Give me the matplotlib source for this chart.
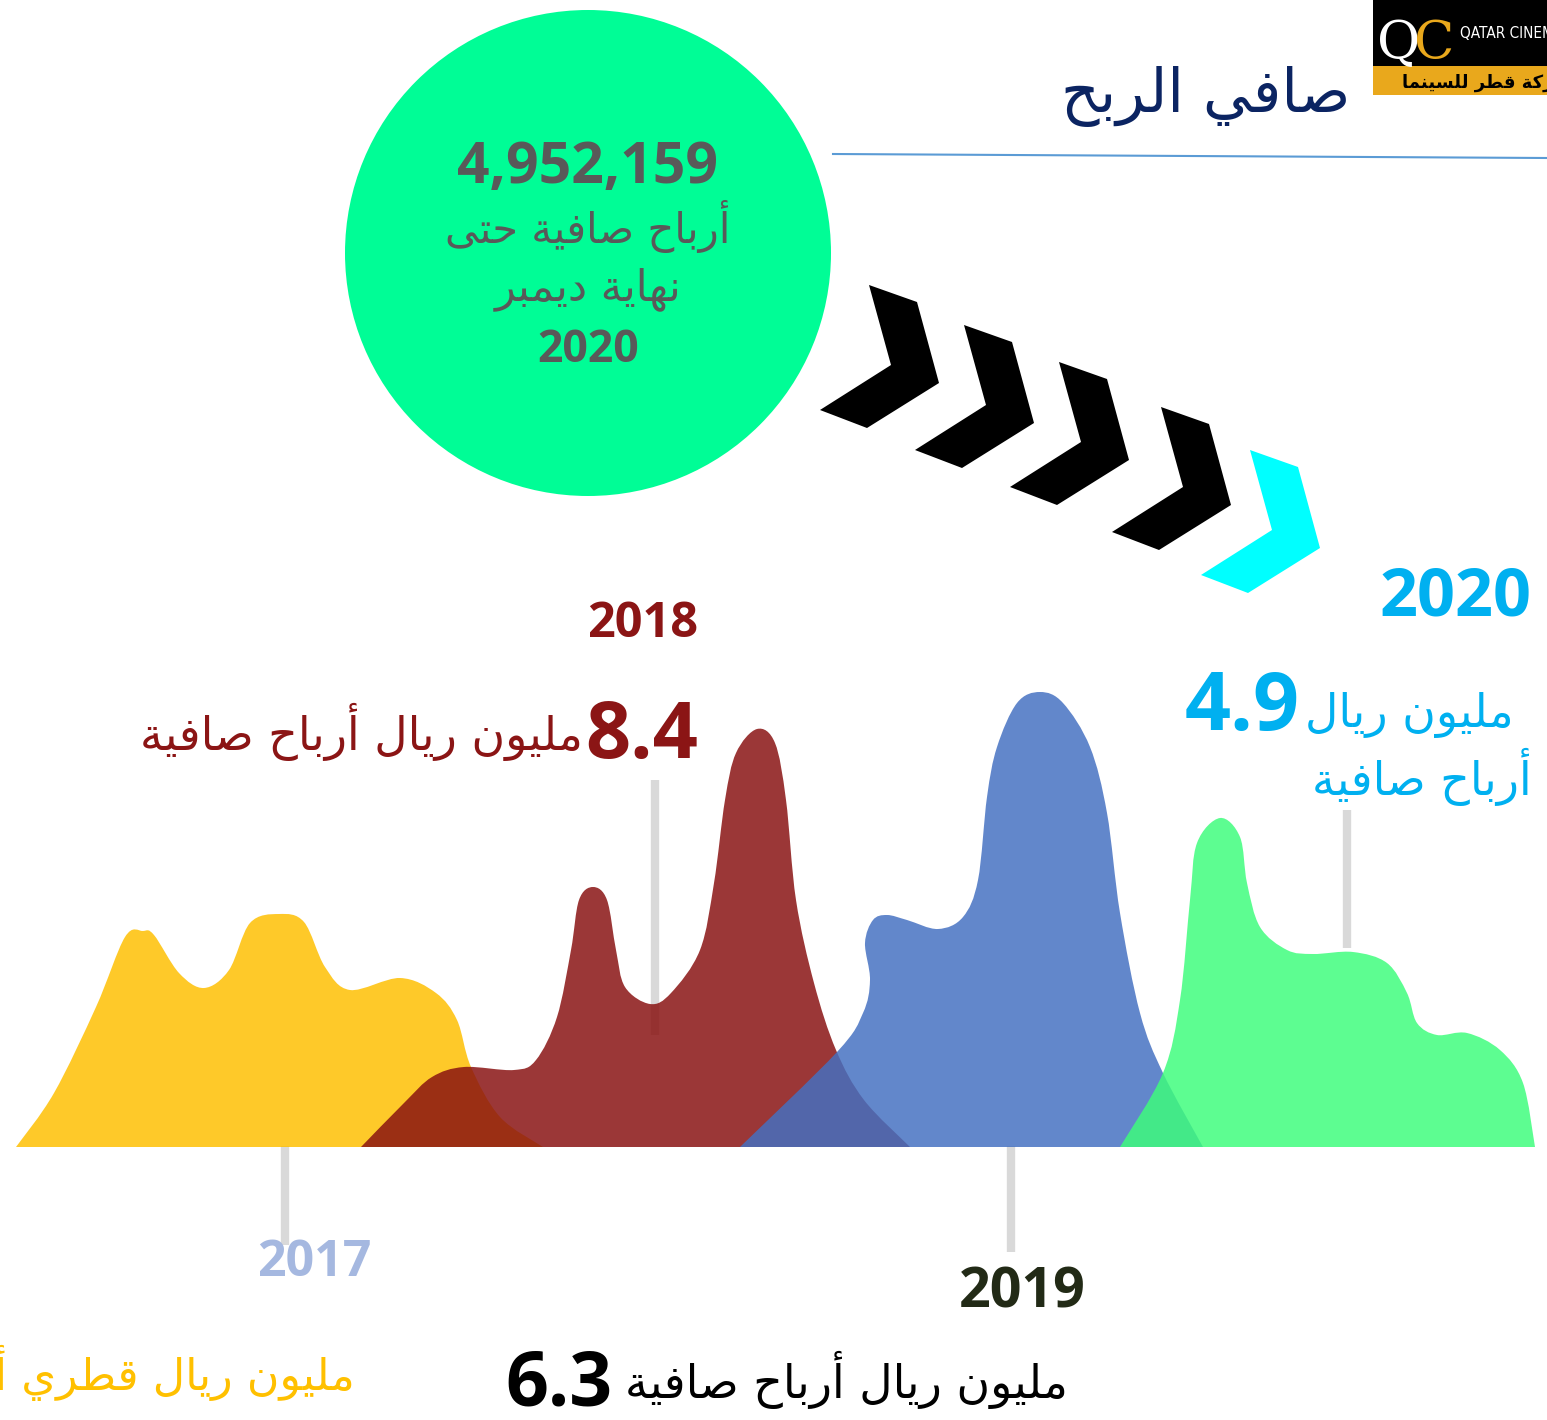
import numpy as np
import matplotlib
matplotlib.use("Agg")
import matplotlib.pyplot as plt
from matplotlib.path import Path
from matplotlib.patches import PathPatch, Circle, Rectangle, Polygon

# ---------------- data (pixel space) ----------------
years = ["2017", "2018", "2019", "2020"]
profit_millions = ["", "8.4", "6.3", "4.9"]
total_profit = "4,952,159"

x_2017 = [16, 54, 96, 125, 143, 154, 179, 204, 229, 250, 279, 304, 325, 350, 400, 436, 457, 471, 500, 543]
y_2017 = [1147, 1093, 1007, 937, 931, 935, 973, 988, 970, 923, 914, 922, 967, 990, 978, 993, 1020, 1067, 1117, 1147]

x_2018 = [361, 404, 432, 464, 514, 536, 557, 571, 579, 593, 607, 616, 625, 650, 671, 700, 714, 725, 736, 757, 775, 786, 796, 814, 836, 864, 910]
y_2018 = [1147, 1103, 1077, 1067, 1070, 1060, 1017, 950, 900, 887, 900, 950, 987, 1004, 993, 950, 883, 800, 753, 729, 743, 800, 900, 983, 1050, 1100, 1147]

x_2019 = [740, 837, 863, 870, 865, 873, 887, 907, 938, 963, 978, 987, 997, 1017, 1040, 1063, 1090, 1107, 1120, 1140, 1163, 1203]
y_2019 = [1147, 1052, 1013, 980, 943, 920, 915, 920, 929, 917, 880, 797, 747, 703, 692, 703, 747, 813, 913, 1013, 1073, 1147]

x_2020 = [1120, 1163, 1180, 1190, 1197, 1220, 1240, 1247, 1260, 1287, 1313, 1353, 1387, 1407, 1417, 1437, 1467, 1500, 1523, 1535]
y_2020 = [1147, 1073, 1000, 900, 843, 818, 837, 883, 927, 950, 954, 952, 963, 993, 1023, 1035, 1033, 1050, 1083, 1147]

shape_colors = ["#FEBF00", "#881110", "#4470C1", "#3EFD7C"]
AREA_ALPHA = 0.84

# ---------------- minimal Arabic shaping (presentation forms + RTL) ----------------
DUAL = {'ئ': 0xFE89, 'ب': 0xFE8F, 'ت': 0xFE95, 'ث': 0xFE99, 'ج': 0xFE9D, 'ح': 0xFEA1,
        'خ': 0xFEA5, 'س': 0xFEB1, 'ش': 0xFEB5, 'ص': 0xFEB9, 'ض': 0xFEBD, 'ط': 0xFEC1,
        'ظ': 0xFEC5, 'ع': 0xFEC9, 'غ': 0xFECD, 'ف': 0xFED1, 'ق': 0xFED5, 'ك': 0xFED9,
        'ل': 0xFEDD, 'م': 0xFEE1, 'ن': 0xFEE5, 'ه': 0xFEE9, 'ي': 0xFEF1}
RIGHT = {'آ': 0xFE81, 'أ': 0xFE83, 'ؤ': 0xFE85, 'إ': 0xFE87, 'ا': 0xFE8D, 'ة': 0xFE93,
         'د': 0xFEA9, 'ذ': 0xFEAB, 'ر': 0xFEAD, 'ز': 0xFEAF, 'و': 0xFEED, 'ى': 0xFEEF}
LAMALEF = {'آ': 0xFEF5, 'أ': 0xFEF7, 'إ': 0xFEF9, 'ا': 0xFEFB}


def ar(text):
    toks = []
    i = 0
    while i < len(text):
        c = text[i]
        if c == 'ل' and i + 1 < len(text) and text[i + 1] in LAMALEF:
            toks.append(('LA', text[i + 1]))
            i += 2
        else:
            toks.append(c)
            i += 1

    def can_prev(t):
        return isinstance(t, tuple) or t in DUAL or t in RIGHT

    def can_next(t):
        return (not isinstance(t, tuple)) and t in DUAL

    out = []
    for k, t in enumerate(toks):
        jp = k > 0 and can_next(toks[k - 1]) and can_prev(t)
        jn = k < len(toks) - 1 and can_next(t) and can_prev(toks[k + 1])
        if isinstance(t, tuple):
            out.append(chr(LAMALEF[t[1]] + (1 if jp else 0)))
        elif t in DUAL:
            b = DUAL[t]
            out.append(chr(b + (3 if (jp and jn) else 1 if jp else 2 if jn else 0)))
        elif t in RIGHT:
            out.append(chr(RIGHT[t] + (1 if jp else 0)))
        else:
            out.append(t)
    return "".join(reversed(out))


AR_FONT = "DejaVu Sans"
NUM_FONT = "Open Sans"


def smooth_path(xs, ys):
    pts = np.column_stack([xs, ys]).astype(float)
    n = len(pts)
    verts = [pts[0]]
    codes = [Path.MOVETO]
    for i in range(n - 1):
        p0 = pts[i - 1] if i > 0 else pts[i]
        p1 = pts[i]
        p2 = pts[i + 1]
        p3 = pts[i + 2] if i + 2 < n else pts[i + 1]
        c1 = p1 + (p2 - p0) / 6.0
        c2 = p2 - (p3 - p1) / 6.0
        verts += [c1, c2, p2]
        codes += [Path.CURVE4] * 3
    verts.append(pts[0])
    codes.append(Path.LINETO)
    verts.append(pts[0])
    codes.append(Path.CLOSEPOLY)
    return Path(verts, codes)


# ---------------- figure ----------------
fig = plt.figure(figsize=(15.47, 14.2), dpi=100)
ax = fig.add_axes([0, 0, 1, 1])
ax.set_xlim(0, 1547)
ax.set_ylim(1420, 0)
ax.axis("off")

# header
ax.text(1350, 112, ar("صافي الربح"), family=AR_FONT, fontsize=43, color="#0B2462",
        ha="right", va="baseline")
ax.plot([833, 1547], [154, 158], color="#5B9BD5", lw=1.5)

# logo
ax.add_patch(Rectangle((1373, 0), 180, 66, facecolor="black", edgecolor="none"))
ax.add_patch(Rectangle((1373, 66), 180, 29, facecolor="#E9A81C", edgecolor="none"))
ax.text(1377, 58, "Q", family="DejaVu Serif", fontsize=38, color="white", va="baseline")
ax.text(1414, 58, "C", family="DejaVu Serif", fontsize=38, color="#E9A81C", va="baseline")
ax.text(1460, 38, "QATAR CINEMA", family="DejaVu Sans", stretch="condensed", fontsize=11,
        color="white", va="baseline", clip_on=True)
ax.text(1572, 88, ar("شركة قطر للسينما"), family=AR_FONT, fontsize=13, weight="bold",
        color="black", ha="right", va="baseline", clip_on=True)

# circle
ax.add_patch(Circle((588, 253), 243, facecolor="#00FD96", edgecolor="none"))
ax.text(588, 183, total_profit, family=NUM_FONT, weight="bold", fontsize=41, color="#595959",
        ha="center", va="baseline")
ax.text(588, 243, ar("أرباح صافية حتى"), family=AR_FONT, fontsize=30, color="#595959",
        ha="center", va="baseline")
ax.text(588, 300, ar("نهاية ديمبر"), family=AR_FONT, fontsize=31, color="#595959",
        ha="center", va="baseline")
ax.text(588, 362, "2020", family=NUM_FONT, weight="bold", fontsize=32, color="#595959",
        ha="center", va="baseline")

# chevrons
chev_x = [869, 964, 1059, 1161, 1250]
chev_y = [285, 325, 362, 407, 450]
chev_colors = ["black", "black", "black", "black", "#00FFFF"]
chev_dx = [0, 48, 70, -2, -49, 22]
chev_dy = [0, 17, 98, 143, 125, 80]
for cx, cy, cc in zip(chev_x, chev_y, chev_colors):
    ax.add_patch(Polygon(np.column_stack([np.add(cx, chev_dx), np.add(cy, chev_dy)]),
                         closed=True, facecolor=cc, edgecolor="none"))

# stems
stem_x = [285, 655, 1011, 1347]
stem_top = [1146, 780, 1146, 810]
stem_bot = [1245, 1035, 1252, 948]
for sx, st, sb in zip(stem_x, stem_top, stem_bot):
    ax.plot([sx, sx], [st, sb], color="#D9D9D9", lw=6, solid_capstyle="butt", zorder=1)

# areas
for xs, ys, col in zip([x_2017, x_2018, x_2019, x_2020], [y_2017, y_2018, y_2019, y_2020], shape_colors):
    ax.add_patch(PathPatch(smooth_path(xs, ys), facecolor=col, edgecolor="none",
                           alpha=AREA_ALPHA, zorder=2))

# labels 2018
ax.text(698, 637, years[1], family=NUM_FONT, weight="bold", fontsize=35, color="#8B1515",
        ha="right", va="baseline")
ax.text(698, 758, profit_millions[1], family=NUM_FONT, weight="bold", fontsize=57, color="#8B1515",
        ha="right", va="baseline")
ax.text(583, 750, ar("مليون ريال أرباح صافية"), family=AR_FONT, fontsize=33, color="#8B1515",
        ha="right", va="baseline")

# labels 2020
ax.text(1532, 616, years[3], family=NUM_FONT, weight="bold", fontsize=48, color="#00B0F0",
        ha="right", va="baseline")
ax.text(1300, 730, profit_millions[3], family=NUM_FONT, weight="bold", fontsize=58, color="#00B0F0",
        ha="right", va="baseline")
ax.text(1305, 727, ar("مليون ريال"), family=AR_FONT, fontsize=33, color="#00B0F0",
        ha="left", va="baseline")
ax.text(1532, 795, ar("أرباح صافية"), family=AR_FONT, fontsize=33, color="#00B0F0",
        ha="right", va="baseline")

# labels 2017
ax.text(314, 1276, years[0], family=NUM_FONT, weight="bold", fontsize=36, color="#A5B8E0",
        ha="center", va="baseline")
ax.text(355, 1390, ar("مليون ريال قطري أرباح صافية"), family=AR_FONT, fontsize=32,
        color="#FFC000", ha="right", va="baseline")

# labels 2019
ax.text(1022, 1308, years[2], family=NUM_FONT, weight="bold", fontsize=40, color="#222A16",
        ha="center", va="baseline")
ax.text(612, 1405, profit_millions[2], family=NUM_FONT, weight="bold", fontsize=54, color="black",
        ha="right", va="baseline")
ax.text(1068, 1398, ar("مليون ريال أرباح صافية"), family=AR_FONT, fontsize=33, color="black",
        ha="right", va="baseline")

fig.savefig("out.png", dpi=100, facecolor="white")
